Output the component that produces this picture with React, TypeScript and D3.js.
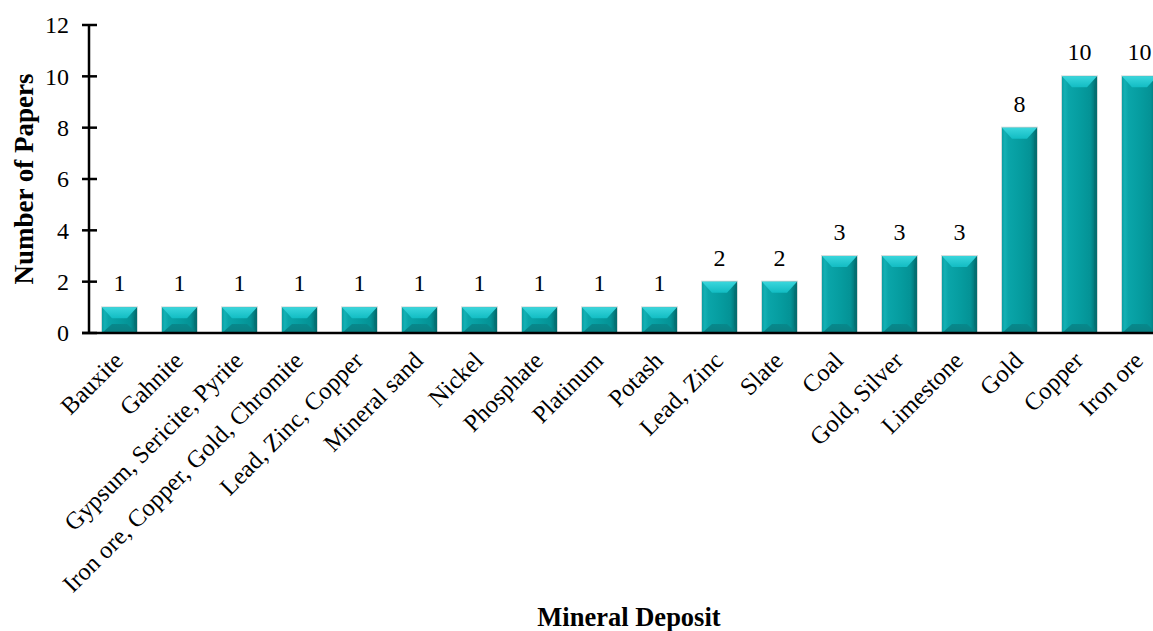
import React from "react";
import * as d3 from "d3";

const categories: string[] = [
  "Bauxite",
  "Gahnite",
  "Gypsum, Sericite, Pyrite",
  "Iron ore, Copper, Gold, Chromite",
  "Lead, Zinc, Copper",
  "Mineral sand",
  "Nickel",
  "Phosphate",
  "Platinum",
  "Potash",
  "Lead, Zinc",
  "Slate",
  "Coal",
  "Gold, Silver",
  "Limestone",
  "Gold",
  "Copper",
  "Iron ore",
];

const paperCounts: number[] = [1, 1, 1, 1, 1, 1, 1, 1, 1, 1, 2, 2, 3, 3, 3, 8, 10, 10];

const yTicks: number[] = [0, 2, 4, 6, 8, 10, 12];

const yAxisTitle = "Number of Papers";
const xAxisTitle = "Mineral Deposit";

const W = 1153;
const H = 631;
const FONT = "'Liberation Serif', 'Times New Roman', serif";

export default function App() {
  const axisX = 89;
  const baseY = 333;

  const y = d3.scaleLinear().domain([0, 12]).range([baseY, 25]);
  const x = d3
    .scaleBand<string>()
    .domain(categories)
    .range([axisX, axisX + 60 * 18.0167])
    .paddingInner(25 / 60)
    .paddingOuter(13 / 60);

  const bw = x.bandwidth();

  return (
    <svg
      width={W}
      height={H}
      viewBox={`0 0 ${W} ${H}`}
      style={{ position: "absolute", left: 0, top: 0, display: "block", background: "#fff" }}
      fontFamily={FONT}
    >
      <defs>
        <linearGradient id="face" x1="0" x2="1" y1="0" y2="0">
          <stop offset="0" stopColor="#0b9da1" />
          <stop offset="0.08" stopColor="#13b0b4" />
          <stop offset="0.18" stopColor="#0aa5a9" />
          <stop offset="0.5" stopColor="#069da0" />
          <stop offset="0.82" stopColor="#049295" />
          <stop offset="0.92" stopColor="#037b7e" />
          <stop offset="1" stopColor="#046a6d" />
        </linearGradient>
        <linearGradient id="topBevel" x1="0" x2="0" y1="0" y2="1">
          <stop offset="0" stopColor="#3ad6dc" />
          <stop offset="1" stopColor="#12bcc3" />
        </linearGradient>
        <linearGradient id="bottomBevel" x1="0" x2="0" y1="0" y2="1">
          <stop offset="0" stopColor="#07898c" />
          <stop offset="1" stopColor="#0a7f82" />
        </linearGradient>
      </defs>

      {/* bars with bevelled edges */}
      {categories.map((c, i) => {
        const v = paperCounts[i];
        const x0 = x(c) as number;
        const x1 = x0 + bw;
        const y0 = y(v);
        const yb = y(0);
        const h = yb - y0;
        const t = Math.min(11, h / 2);
        const tb = Math.min(9, h / 2);
        const s = Math.min(10, bw / 3);
        const pts = (p: [number, number][]) => p.map((q) => q.join(",")).join(" ");
        return (
          <g key={c}>
            <rect x={x0 - 0.5} y={y0 - 0.5} width={bw + 1} height={h + 0.5} fill="none" stroke="#d4dcdc" strokeWidth={1} />
            <rect x={x0} y={y0} width={bw} height={h} fill="url(#face)" />
            <polygon
              points={pts([
                [x0, yb],
                [x1, yb],
                [x1 - s, yb - tb],
                [x0 + s, yb - tb],
              ])}
              fill="url(#bottomBevel)"
            />
            <polygon
              points={pts([
                [x1, y0],
                [x1, yb],
                [x1 - 3, yb - tb],
                [x1 - 3, y0 + t],
              ])}
              fill="#056d70"
              opacity={0.55}
            />
            <polygon
              points={pts([
                [x0, y0],
                [x1, y0],
                [x1 - s, y0 + t],
                [x0 + s, y0 + t],
              ])}
              fill="url(#topBevel)"
            />
          </g>
        );
      })}

      {/* value labels */}
      {categories.map((c, i) => (
        <text
          key={`v-${c}`}
          x={(x(c) as number) + bw / 2}
          y={y(paperCounts[i]) - 16}
          textAnchor="middle"
          fontSize={24}
          fill="#000"
        >
          {paperCounts[i]}
        </text>
      ))}

      {/* axes */}
      <line x1={axisX} x2={axisX} y1={y(12)} y2={baseY} stroke="#000" strokeWidth={2.5} />
      <line x1={82} x2={W} y1={baseY} y2={baseY} stroke="#000" strokeWidth={2.5} />
      {yTicks.map((t) => (
        <g key={`t-${t}`}>
          <line x1={82} x2={97} y1={y(t)} y2={y(t)} stroke="#000" strokeWidth={2.5} />
          <text x={69} y={y(t)} dy="0.35em" textAnchor="end" fontSize={24} fill="#000">
            {t}
          </text>
        </g>
      ))}

      {/* category labels */}
      {categories.map((c) => (
        <text
          key={`c-${c}`}
          transform={`translate(${(x(c) as number) + bw / 2 + 5},${362}) rotate(-45)`}
          textAnchor="end"
          fontSize={24.5}
          fill="#000"
        >
          {c}
        </text>
      ))}

      {/* axis titles */}
      <text
        transform={`translate(33,${(y(12) + baseY) / 2}) rotate(-90)`}
        textAnchor="middle"
        fontSize={27}
        fontWeight="bold"
        fill="#000"
      >
        {yAxisTitle}
      </text>
      <text x={629} y={626} textAnchor="middle" fontSize={26.5} fontWeight="bold" fill="#000">
        {xAxisTitle}
      </text>
    </svg>
  );
}
